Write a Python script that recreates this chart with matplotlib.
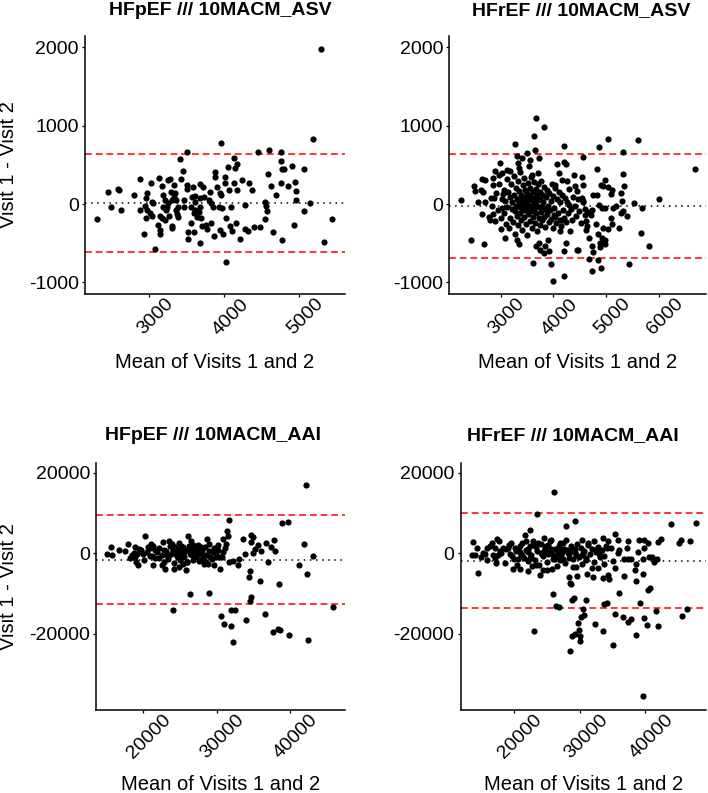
import matplotlib
matplotlib.use("Agg")
import matplotlib.pyplot as plt
from matplotlib.transforms import ScaledTranslation

plt.rcParams['font.family'] = ['Liberation Sans', 'DejaVu Sans']

# ---------------- data ----------------
titles = ["HFpEF /// 10MACM_ASV", "HFrEF /// 10MACM_ASV",
          "HFpEF /// 10MACM_AAI", "HFrEF /// 10MACM_AAI"]
x_label = "Mean of Visits 1 and 2"
y_label = "Visit 1 - Visit 2"

# Panel 1: HFpEF ASV
p1_x = [2302, 2449, 2489, 2582, 2604, 2622, 2804, 2880, 2884, 2929, 2960, 2973, 2947, 2969, 2956,
        3031, 3036, 3058, 3013, 3036, 3080, 3138, 3124, 3151, 3151, 3178, 3191, 3182, 3205, 3169,
        3249, 3284, 3213, 3227, 3258, 3267, 3311, 3311, 3338, 3347, 3329, 3360, 3369, 3391, 3413,
        3427, 3449, 3458, 3462, 3502, 3502, 3502, 3516, 3524, 3569, 3578, 3591, 3613, 3613, 3613,
        3600, 3671, 3680, 3680, 3693, 3711, 3724, 3667, 3702, 3755, 3769, 3791, 3813, 3822, 3827,
        3844, 3858, 3871, 3880, 3907, 3924, 3960, 3947, 3960, 3938, 3969, 3982, 4004, 4013, 4018,
        4027, 4049, 4058, 4071, 4084, 4102, 4124, 4133, 4147, 4169, 4156, 4169, 4204, 4236, 4271,
        4280, 4316, 4324, 4369, 4391, 4449, 4480, 4538, 4551, 4547, 4573, 4582, 4600, 4622, 4649,
        4684, 4760, 4760, 4769, 4796, 4760, 4773, 4849, 4902, 4938, 4960, 4960, 4933, 5058, 5067,
        5138, 5178, 5324, 5436, 5293, 3289, 3311, 3356, 3382, 3560, 3636, 3560, 3680, 3147, 3240]
p1_y = [-192, 149, -39, 187, 174, -77, 114, 319, -77, -380, 72, 136, -26, -77, -184,
        272, 30, 8, -120, -154, -580, 336, -269, -333, -388, 230, 114, -43, -205, -184,
        306, 315, 51, -77, 8, -154, -282, -303, 242, 136, 93, 51, -133, -35, 575,
        315, 425, 51, -35, 660, 242, 187, -354, -443, 93, 221, -120, 106, 30, -77,
        -354, -494, 255, -35, -184, 221, 93, -98, -282, -269, -324, 51, 157, 8, -248,
        -35, -409, 413, 349, 212, -43, 783, 136, 114, -333, -56, -384, 349, 264, -184,
        -746, 468, 179, -282, -43, -341, 272, 591, 455, 511, -248, 179, -452, 306, -13,
        -320, -341, 264, 179, -290, 660, -290, 30, -26, -192, -90, 383, 689, 230, -362,
        114, 668, 553, 443, 443, 264, -460, 234, 489, 276, 166, 51, -269, 443, -90,
        13, 830, -481, -192, 1985, 157, 51, -77, -162, -43, -162, -248, 72, -154, -35]
p1_lines = [13, 638, -615]          # mean, upper, lower limits of agreement

# Panel 2: HFrEF ASV
p2_x = [2251, 2433, 2685, 2496, 2509, 2653, 2704, 2622, 2666, 2578, 2697, 2653, 2798, 2779, 2855,
        2823, 2874, 2861, 2892, 2987, 2968, 3031, 3044, 3031, 3018, 3094, 3125, 3188, 3283, 3314,
        3333, 3358, 3314, 3346, 3408, 3503, 3566, 3534, 3628, 3672, 3647, 3723, 3830, 3710, 3597,
        3610, 3672, 3723, 3754, 3817, 3849, 3899, 3912, 3955, 3993, 4195, 4195, 4195, 4239, 4069,
        4195, 4100, 4239, 4037, 4163, 4257, 4383, 4402, 4308, 4446, 4446, 4131, 4006, 4163, 4289,
        5031, 5597, 4867, 4559, 5327, 6679, 4836, 5327, 4547, 4981, 4899, 4949, 5044, 5107, 5094,
        5339, 5283, 4553, 4761, 4823, 4540, 4559, 5295, 5534, 5993, 5673, 4867, 4918, 4981, 5138,
        5188, 4729, 4654, 4717, 4603, 5276, 5327, 5390, 5094, 5107, 4616, 4647, 4622, 4811, 4949,
        5044, 5245, 4842, 4679, 4918, 4981, 4886, 4981, 4729, 4886, 4748, 4477, 5654, 5811, 4685,
        4855, 4905, 4729, 5440,
        3060, 3075, 3090, 3105, 3118, 3130, 3145, 3160, 3172, 3185, 3196, 3210, 3222, 3235, 3248,
        3256, 3268, 3277, 3285, 3296, 3305, 3312, 3324, 3333, 3341, 3350, 3362, 3370, 3378, 3386,
        3394, 3402, 3410, 3418, 3426, 3433, 3441, 3449, 3457, 3465, 3472, 3480, 3488, 3495, 3503,
        3511, 3519, 3527, 3535, 3542, 3550, 3558, 3566, 3574, 3582, 3590, 3598, 3606, 3614, 3622,
        3630, 3638, 3646, 3655, 3663, 3671, 3680, 3688, 3697, 3705, 3714, 3722, 3731, 3740, 3748,
        3757, 3765, 3774, 3783, 3792, 3800, 3810, 3820, 3830, 3840, 3852, 3863, 3875, 3887, 3898,
        3910, 3922, 3935, 3948, 3960, 3972, 3985, 3998, 4012, 4025, 4040, 4055, 4070, 4085, 4100,
        4118, 4135, 4152, 4170, 4188, 4205, 4225, 4245, 4265, 4285, 4305, 4330, 4355, 4380, 4405,
        4430, 4460, 4490, 4520, 4560, 4600, 2950, 2980, 3010, 3030, 2920, 2900, 2860, 2840]
p2_y = [49, -453, -508, 228, 164, 326, 313, 185, 156, 28, 24, -121, -198, -168, -125,
        71, 79, 249, 420, 526, 377, 398, 122, -49, -313, -432, 441, 420, 769, 611,
        526, 462, -453, -508, 590, 654, 556, 484, 867, 1101, 696, 590, 986, 398, 377,
        -751, -538, -496, -581, -623, -538, -453, -602, -764, -977, -913, 739, -602, -496, 505,
        539, 398, 505, 249, 313, 292, 377, 228, -347, -581, 164, -347, -134, -198, -6,
        828, 820, 730, 598, 662, 449, 445, 381, 343, 313, 241, 224, 215, 185, 130,
        224, 143, 241, 113, 113, 79, 24, 36, 11, 62, -53, -6, -49, -57, -49,
        -28, -70, -100, -134, -134, -117, -83, -159, -176, -253, -219, -283, -338, -253, -304,
        -325, -304, -381, -432, -432, -453, -496, -508, -538, -551, -610, -581, -368, -538, -696,
        -721, -815, -858, -760,
        180, -120, 40, -260, 320, -40, 150, -310, 90, -180, 260, -60, 20, -230, 360,
        110, -90, -380, 200, -20, 70, -150, 290, -270, 30, 170, -110, -40, 410, 120,
        -200, 60, -330, 240, -80, 10, 330, -160, 90, -20, 180, -260, -70, 140, -400,
        30, 270, -130, 60, -30, 210, -220, 100, -90, 350, -20, -300, 150, 40, -170,
        280, -60, 80, -240, 190, -10, -120, 120, -350, 50, 250, -180, -40, 160, -270,
        70, -100, 300, -20, -210, 120, 30, -160, 220, -60, -290, 90, -130, 180, -20,
        -230, 140, -80, 40, -190, 260, -300, 100, -50, -160, 200, -240, 60, -110, 150,
        -200, 20, -280, 110, -70, -180, 80, -230, 30, -120, 190, -60, -200, 90, -20,
        -150, 60, -90, -240, 40, -60, -80, 260, -180, 60, 140, -220, 330, -20]
p2_lines = [-25, 645, -686]

# Panel 3: HFpEF AAI
p3_x = [15049, 15594, 15731, 16731, 17868, 18459, 18686, 18913, 19232, 19368, 19596, 19914, 20278, 20596,
        20914, 21187, 21278, 21642, 22187, 22551, 22869, 23006, 23324, 23551, 23915, 24097, 24233, 24370,
        24461, 24688, 24915, 25143, 25279, 25461, 25597, 25825, 25916, 26052, 26280, 26416, 26643, 26825,
        26962, 27189, 27416, 27644, 27871, 28007, 28189, 28553, 28689, 28917, 29007, 29144, 29462, 29690,
        29917, 30145, 30462, 30599, 30735, 30826, 31054, 31190, 31281, 31418, 31508, 31736, 31645, 31964,
        31964, 32191, 32282, 32555, 32873, 33100, 33555, 33919, 34010, 34464, 34555, 34555, 34692, 34692,
        34919, 34692, 35010, 35283, 35601, 35919, 36056, 36601, 36737, 37055, 37419, 37647, 37783, 37965,
        38329, 38466, 38693, 38920, 39693, 39829, 41193, 41966, 42193, 42284, 42511, 43193, 45832,
        17500, 18200, 18800, 19200, 19700, 20100, 20500, 20900, 21300, 21600, 21900, 22200, 22500, 22800,
        23100, 23400, 23600, 23800, 24000, 24200, 24400, 24600, 24800, 25000, 25200, 25400, 25600, 25800,
        26000, 26200, 26400, 26600, 26800, 27000, 27200, 27400, 27600, 27800, 28000, 28200, 28400, 28600,
        28800, 29000, 29300, 29600, 29900, 30200, 30500, 30800, 21100, 22700, 24900, 26500, 19000, 23000,
        24100, 25100, 27100, 28300]
p3_y = [-165, 1490, -331, 911, 2236, -497, 83, -911, -2815, 994, 497, -83, 4388, 1573,
        1325, -662, -2815, 745, -1159, -2981, 745, -3975, -911, 3064, 2401, -14159, -3809, 1573,
        -83, -911, 745, 1821, -911, -2567, 331, -4222, -2153, 4388, 1159, -10184, -497, 1987,
        745, -911, -83, 745, 1573, -1325, -497, -2153, 3478, 2401, -9853, -911, 331, -2981,
        -911, 745, -3809, -15566, -911, 3478, -17636, 1325, 2401, 5465, 4223, 8362, -2153, -14002,
        -18133, -22025, -1987, -14002, -2981, -1325, 3643, -248, -16642, -5879, -4471, -11923, -10847, 4637,
        3975, 2815, 166, 994, 1987, -6955, 497, -15069, 2567, -2153, 1573, -19541, 3230, 497,
        -18713, -7617, -18961, 7535, 7783, -20369, -2981, 2401, 17057, -5217, -21528, -662, -13413,
        500, -1200, 1500, -300, 800, -1800, 300, -700, 1700, -1300, 200, 1200, -500, -2200,
        600, -1500, 1900, -300, 700, -2500, 1100, -800, 2600, -1700, 300, 1500, -1000, 700,
        -2300, 1900, -300, 400, -1600, 1200, -700, 2100, -1900, 200, 900, -1100, 1600, -400,
        -2600, 600, -1400, 1300, -200, 2000, -1000, 400, 2400, 2900, -3500, 3100, -2200, -300,
        300, 900, -200, -2800]
p3_lines = [-1660, 9370, -12500]

# Panel 4: HFrEF AAI
p4_x = [26033, 23446, 13704, 13450, 13957, 14465, 14820, 15124, 15733, 15835, 16494, 16748, 17002, 17154,
        17357, 17662, 17509, 17865, 18270, 18676, 19031, 19285, 19539, 19793, 19894, 20199, 20554, 20808,
        20909, 21214, 21568, 21721, 22076, 22330, 22076, 22431, 22736, 22939, 23345, 23852, 23598, 24105,
        24359, 24461, 24765, 25019, 25121, 25374, 25628, 25780, 25932, 26135, 26287, 26794, 26642, 26896,
        27150, 27403, 27809, 27910, 28164, 28265, 28417, 28672, 28773, 29027, 28417, 28823, 29179, 29179,
        29332, 29433, 29535, 29687, 29839, 30042, 30042, 30245, 30448, 30347, 30448,
        30954, 30700, 32374, 33491, 33744, 34099, 35114, 35368, 36028, 36535, 37398, 37804, 38565, 39224,
        39833, 40239, 40442, 40696, 41609, 41964, 39681, 43892, 47698, 45161, 45415, 46785, 45668, 46430,
        41964, 42371, 41761, 41355, 41101, 40442, 40493, 39833, 39732, 39072, 39580, 38920, 38565, 38464,
        38565, 39681, 37804, 37297, 36687, 36789, 37195, 37398, 36028, 35774, 35368, 35368, 35013, 34505,
        34252, 34353, 33491, 33491, 32730, 31969, 31816, 31106, 31207, 32222, 32983, 33744, 34759, 35774,
        34150, 32628,
        14200, 15500, 16200, 17000, 17800, 18500, 19200, 19600, 20100, 20400, 20800, 21100, 21400, 21700,
        22000, 22300, 22600, 22900, 23200, 23500, 23800, 24100, 24400, 24700, 25000, 25300, 25600, 25900,
        26200, 26500, 26800, 27100, 27400, 27700, 28000, 28300, 28600, 28900, 29200, 29500, 29800, 30100,
        30400, 30700, 31000, 31300, 31600, 31900, 32200, 32500, 32800, 33100, 33400, 33700, 34000, 21000,
        22100, 23300, 24200, 25200, 26300, 27300, 28400, 29300, 30300, 20500, 24500, 27500, 29000, 23000,
        25800, 28700, 30900, 22500, 26900]
p4_y = [15207, 9673, 2817, -570, -570, -4865, -901, -74, 1330, -1726, 2569, -570, 1330, -2387,
        3643, 2982, -570, -74, 1330, 1082, 1330, -322, 2569, -4039, -1396, 503, -1561, -3874,
        1743, -570, 4634, 2982, -4452, 5708, 1082, -1148, -3213, -19320, -3048, -5526, 2569, 91,
        -4204, 3808, 1743, -4204, -322, 2982, 1082, -4039, -10151, -1396, -13125, -13290, 91, 2569,
        917, -1561, 3395, 6864, 91, -5857, -7509, -7757, -11639, -11226, -24194, -20560, 8103, -20147,
        -570, -3378, -5691, -17420, -19072, -20560, -21799, -15769, -13952, 3395, 91,
        -11721, -15438, -17503, -19320, -12712, -12299, -22871, -15190, -9821, -15851, -17007, -16429, -20312, -12464,
        -16016, -17834, -9243, -8665, -14364, -18081, -35592, 7277, 7525, 2569, 3395, 2982, -15604, -13787,
        2817, 3560, -1396, -2222, -900, 2569, -900, 1330, 3395, 3395, -1561, 339, -2800, -4204,
        -6930, -5278, -1561, -1396, -1561, -5691, 1330, 2982, 917, 3395, 4799, -3626, -1974, -6517,
        -5526, 3147, 3808, -6104, -3626, -5857, -3626, -5113, 2569, 2982, -322, -735, 1330, 91,
        1330, 1082,
        1200, -300, 1800, -1300, 600, -2400, 2100, -600, 1400, -2900, 300, 2600, -1100, 900,
        -2000, 1900, -400, 3100, -1600, 600, -3000, 2300, -800, 1200, -2200, 400, 3300, -1400,
        1000, -3100, 1700, -500, 2600, -2500, 700, -1200, 1900, -3400, 300, 2400, -900, 1300,
        -2700, 600, -1700, 2000, -300, 1100, -2300, 200, 1500, -1000, 700, -2800, 1800, -500,
        400, 1500, -100, 2100, -700, 400, -200, 1000, -400, 800, 500, 1100, -1500, 2000,
        -300, 600, -1200, -1300, -1800]
p4_lines = [-1900, 9880, -13700]

panels = [
    (p1_x, p1_y, p1_lines, (2147, 5607), (-1149, 2146), [3000, 4000, 5000], [-1000, 0, 1000, 2000]),
    (p2_x, p2_y, p2_lines, (2030, 6892), (-1149, 2146), [3000, 4000, 5000, 6000], [-1000, 0, 1000, 2000]),
    (p3_x, p3_y, p3_lines, (13590, 47500), (-38880, 22480), [20000, 30000, 40000], [-20000, 0, 20000]),
    (p4_x, p4_y, p4_lines, (11780, 49280), (-38880, 22480), [20000, 30000, 40000], [-20000, 0, 20000]),
]

# ---------------- layout (pixel boxes: left, top, right, bottom) ----------------
W, H = 708, 793
boxes = [(85, 36, 345, 294), (449.3, 36, 706, 294),
         (96.3, 462.7, 345, 709.7), (460.7, 462.7, 706, 709.7)]
title_pos = [(220.5, 15), (581, 15), (213, 440), (573, 440)]
xlabel_y = [362.7, 362.7, 784, 784]

fig = plt.figure(figsize=(W / 100, H / 100), dpi=100)
shift = ScaledTranslation(6 / 100, 2 / 100, fig.dpi_scale_trans)

for i, (px, py, lines, xl, yl, xt, yt) in enumerate(panels):
    l, t, r, b = boxes[i]
    ax = fig.add_axes([l / W, 1 - b / H, (r - l) / W, (b - t) / H])
    ax.scatter(px, py, s=20, color='black', linewidths=0, zorder=3)
    ax.axhline(lines[0], color='black', linestyle=(0, (1, 3)), lw=1.1, zorder=2)
    ax.axhline(lines[1], color='#FF0000', linestyle=(0, (4.5, 2.5)), lw=1.1, zorder=2)
    ax.axhline(lines[2], color='#FF0000', linestyle=(0, (4.5, 2.5)), lw=1.1, zorder=2)
    ax.set_xlim(*xl)
    ax.set_ylim(*yl)
    ax.set_xticks(xt)
    ax.set_yticks(yt)
    ax.set_xticklabels([str(v) for v in xt], rotation=45, ha='center', va='top', fontsize=14)
    ax.set_yticklabels([str(v) for v in yt], fontsize=14)
    ax.tick_params(axis='both', length=2.5, width=0.9, pad=2, colors='black')
    ax.tick_params(axis='x', pad=0)
    for lab in ax.get_xticklabels():
        lab.set_transform(lab.get_transform() + shift)
    for s in ['top', 'right']:
        ax.spines[s].set_visible(False)
    for s in ['left', 'bottom']:
        ax.spines[s].set_linewidth(1.1)
    ax.set_xlabel(x_label, fontsize=14.5)
    ax.xaxis.label.set_va('center')
    ax.xaxis.set_label_coords(0.5, -(xlabel_y[i] - b) / (b - t))
    if i % 2 == 0:
        ax.set_ylabel(y_label, fontsize=14.5)
        ax.yaxis.label.set_va('center')
        ax.yaxis.set_label_coords(-(l - 9) / (r - l), 0.5)
    tx, ty = title_pos[i]
    fig.text(tx / W, 1 - ty / H, titles[i], fontsize=14, fontweight='bold',
             ha='center', va='baseline')

fig.savefig("out.png", dpi=100)
